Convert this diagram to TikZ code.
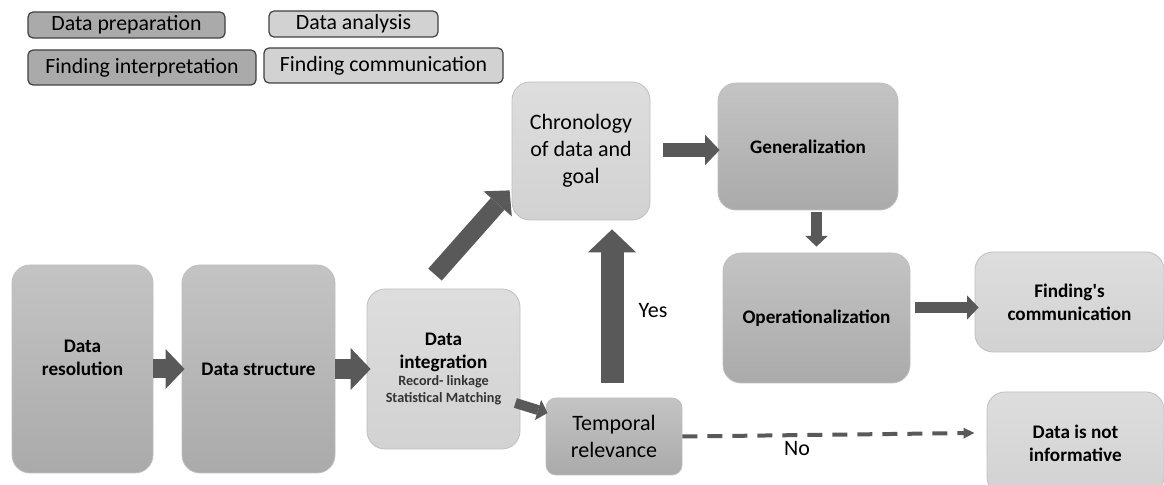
\documentclass[tikz,border=0pt]{standalone}
\usepackage{fontspec}
\setmainfont{Carlito}[Ligatures=TeXOff]
\usetikzlibrary{arrows.meta}
\definecolor{boxdark}{RGB}{170,170,170}
\definecolor{boxlight}{RGB}{210,210,210}
\definecolor{arrowgray}{RGB}{89,89,89}
\newcommand\minortext{\fontsize{7.1}{9.5}\selectfont\color{black!80}}
\begin{document}
\begin{tikzpicture}[x=0.5pt,y=-0.5pt,
  flow/.style={draw=arrowgray,line width=#1,-{Triangle[width=0pt 2.1 0,length=0pt 1 0,line width=0pt 0 0]}}]
  \tikzstyle{stage}=[rounded corners=9pt,draw=black!25,line width=0.4pt,inner sep=2pt,align=center,font=\fontsize{9.6}{11.5}\selectfont\bfseries]
  \tikzstyle{plain}=[font=\fontsize{11}{13.5}\selectfont]
  \tikzstyle{dark}=[top color=boxdark!70!white,bottom color=boxdark]
  \tikzstyle{light}=[top color=boxlight!75!white,bottom color=boxlight]
  \tikzstyle{key}=[rounded corners=2.5pt,draw=black!75,line width=0.6pt,inner sep=0pt,font=\fontsize{10.9}{13}\selectfont]
  \useasboundingbox (0,0) rectangle (1164,485);
  \clip (0,0) rectangle (1164,485);
  % legend
  \node[key,fill=boxdark] (prep) at (126.5,25) [minimum width=98.5pt,minimum height=13pt] {Data preparation};
  \node[key,fill=boxlight] (anal) at (353.5,24) [minimum width=84.5pt,minimum height=13pt] {Data analysis};
  \node[key,fill=boxdark] (interp) at (142,67.5) [minimum width=114pt,minimum height=17.5pt] {Finding interpretation};
  \node[key,fill=boxlight] (commkey) at (383.5,65.5) [minimum width=119.5pt,minimum height=17.5pt] {Finding communication};
  % stages
  \node[stage,dark] (res) at (82.5,369) [minimum width=70.5pt,minimum height=104pt] {Data\\resolution\\[0pt]};
  \node[stage,dark] (struct) at (258.5,369) [minimum width=76.5pt,minimum height=104pt] {Data structure};
  \node[stage,light] (integ) at (443.5,369) [minimum width=76.5pt,minimum height=80pt]
    {Data\\integration\\[-3pt]\minortext Record- linkage\\[-3pt]\minortext Statistical Matching};
  \node[stage,dark,plain,rounded corners=5pt] (temp) at (614,436.5) [minimum width=68pt,minimum height=38.5pt] {Temporal\\relevance};
  \node[stage,light,plain] (chron) at (581,151) [minimum width=69pt,minimum height=69pt] {Chronology\\of data and\\goal};
  \node[stage,dark] (gen) at (808,146.5) [minimum width=90pt,minimum height=63.5pt] {Generalization};
  \node[stage,dark] (oper) at (816.5,318) [minimum width=93.5pt,minimum height=65pt] {Operationalization};
  \node[stage,light] (comm) at (1069.5,302) [minimum width=94.5pt,minimum height=50pt] {Finding's\\communication};
  \node[stage,light] (noinf) at (1075.5,443.5) [minimum width=88.5pt,minimum height=51.5pt] {Data is not\\informative};
  % labels
  \node[plain] (yes) at (653,311) {Yes};
  \node[plain] (no) at (797,449) {No};
  % arrows
  \draw[flow=9.5pt] (res.east) -- ([xshift=1.5pt]struct.west);
  \draw[flow=10pt] (struct.east) -- ([xshift=2pt]integ.west);
  \draw[flow=9pt] ([shift={(-8.5,-14)}]integ.north) -- ([shift={(-2,-30)}]chron.south west);
  \draw[flow=11.5pt] ([shift={(-2,-15)}]temp.north) -- ([shift={(31,9)}]chron.south);
  \draw[flow=5pt] ([shift={(-5,34)}]integ.east) -- ([shift={(2,-23.5)}]temp.west);
  \draw[flow=7.3pt] ([shift={(13,-1)}]chron.east) -- ([shift={(2,3.5)}]gen.west);
  \draw[flow=5.3pt] ([shift={(8.5,2)}]gen.south) -- ([shift={(0,-6)}]oper.north);
  \draw[flow=5.8pt] ([shift={(5,-10.5)}]oper.east) -- ([shift={(4,5.5)}]comm.west);
  \draw[draw=arrowgray,line width=2pt,dash pattern=on 7.5pt off 5pt,-{Triangle[width=5pt,length=5.5pt]}]
    (temp.east) -- ([shift={(-12,-10.5)}]noinf.west);
\end{tikzpicture}
\end{document}
